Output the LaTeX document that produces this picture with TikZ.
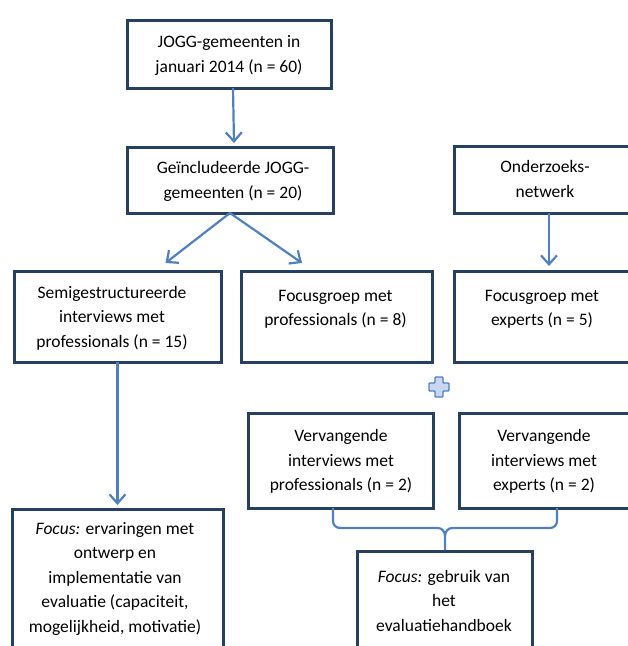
\documentclass[tikz,border=0pt]{standalone}
\usepackage{fontspec}
\setmainfont{Carlito}
\usetikzlibrary{arrows.meta,calc}
\definecolor{navy}{RGB}{38,64,97}
\definecolor{arrblue}{RGB}{79,129,189}
\definecolor{plusfill}{RGB}{200,214,243}
\tikzset{
  box/.style={draw=navy, line width=3pt, rectangle, inner sep=0pt, outer sep=0pt, anchor=north west},
  txt/.style={font=\fontsize{17.5}{24.5}\selectfont, align=center, inner sep=0pt, text=black},
  arr/.style={draw=arrblue, line width=2.2pt, -{Straight Barb[length=9pt,width=16pt,line width=2.2pt]}},
  bracestyle/.style={draw=arrblue, line width=2.2pt},
  plusstyle/.style={draw=arrblue, fill=plusfill, line width=1.4pt, rounded corners=0.8pt}
}
\begin{document}
\begin{tikzpicture}[x=1pt,y=-1pt]
\useasboundingbox (0,0) rectangle (628,646);
\clip (0,0) rectangle (628,646);

% boxes
\node[box, minimum width=204pt, minimum height=68pt] (b1) at (127,20) {};
\node[box, minimum width=206pt, minimum height=66pt] (b2) at (127,147) {};
\node[box, minimum width=186pt, minimum height=67pt] (b3) at (454,146) {};
\node[box, minimum width=207pt, minimum height=91pt] (r1) at (14,271) {};
\node[box, minimum width=191pt, minimum height=91pt] (r2) at (241,271) {};
\node[box, minimum width=186pt, minimum height=91pt] (r3) at (454,271) {};
\node[box, minimum width=185pt, minimum height=95pt] (v1) at (248,413) {};
\node[box, minimum width=181pt, minimum height=95pt] (v2) at (459,413) {};
\node[box, minimum width=211pt, minimum height=160pt] (f1) at (12,509) {};
\node[box, minimum width=175pt, minimum height=120pt] (f2) at (357,551) {};

% texts
\node[txt] (t1) at (229,55) {\strut JOGG-gemeenten in\\januari 2014 (n = 60)\strut};
\node[txt] (t2) at (233,181) {\strut Geïncludeerde JOGG-\\gemeenten (n = 20)\strut};
\node[txt] (t3) at (545,180) {\strut Onderzoeks-\\netwerk\strut};
\node[txt] (t4) at (112,318) {\strut Semigestructureerde\\interviews met\\professionals (n = 15)\strut};
\node[txt] (t5) at (335.5,308.5) {\strut Focusgroep met\\professionals (n = 8)\strut};
\node[txt] (t6) at (542,308.5) {\strut Focusgroep met\\experts (n = 5)\strut};
\node[txt] (t7) at (341,461.5) {\strut Vervangende\\interviews met\\professionals (n = 2)\strut};
\node[txt] (t8) at (544,461.5) {\strut Vervangende\\interviews met\\experts (n = 2)\strut};
\node[txt] (t9) at (444,602) {\strut\textit{Focus:} gebruik van\\het\\evaluatiehandboek\strut};
\node[txt] (t10) at (115,578.5) {\strut\textit{Focus:} ervaringen met\\ontwerp en\\implementatie van\\evaluatie (capaciteit,\\mogelijkheid, motivatie)\strut};

% arrows
\draw[arr] ([xshift=4pt]b1.south) -- ([xshift=4pt,yshift=4pt]b2.north);
\draw[arr] (b2.south) -- ([xshift=48pt,yshift=8pt]r1.north);
\draw[arr] (b2.south) -- ([xshift=-34.5pt,yshift=8pt]r2.north);
\draw[arr] ([xshift=2pt]b3.south) -- ([xshift=2pt,yshift=5pt]r3.north);
\draw[arr] (r1.south) -- ([yshift=4pt]f1.north);

% plus sign
\draw[plusstyle] (435,377) -- (443,377) -- (443,383) -- (449,383) -- (449,391) -- (443,391) -- (443,397) -- (435,397) -- (435,391) -- (429,391) -- (429,383) -- (435,383) -- cycle;

% brace
\coordinate (brL) at (333,508);
\coordinate (brR) at (557,508);
\coordinate (brT) at (445,550);
\draw[bracestyle] (brL) -- (333,521) to[out=-90,in=180] (340,528) -- (438,528) to[out=0,in=90] (445,536) -- (brT);
\draw[bracestyle] (brR) -- (557,521) to[out=-90,in=0] (550,528) -- (452,528) to[out=180,in=90] (445,536);
\end{tikzpicture}
\end{document}
